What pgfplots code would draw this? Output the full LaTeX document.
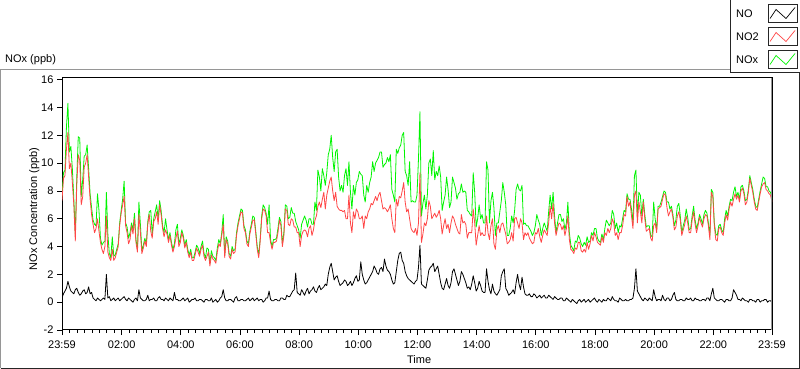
\documentclass[border=0pt]{standalone}
\usepackage{pgfplots}
\pgfplotsset{compat=1.18}
\usepackage{pgfplotstable}
\usepackage{fontspec}
\setmainfont{Liberation Sans}
\definecolor{noxgreen}{RGB}{0,245,0}
\definecolor{notwored}{RGB}{255,70,70}
\definecolor{frameg}{RGB}{150,150,150}

\pgfplotstableread{
t NO NO2 NOx
0.0 0.3 7.3 7.6
0.05 0.6 8.9 9.3
0.1 0.8 9.1 9.5
0.15 1.0 11.0 12.6
0.2 1.5 12.2 14.3
0.25 1.1 9.6 10.8
0.3 0.8 10.0 11.2
0.35 0.7 8.6 9.6
0.4 0.6 7.0 7.4
0.45 0.9 4.4 4.9
0.5 1.0 8.5 9.0
0.55 0.7 10.6 11.9
0.6 0.5 10.2 11.8
0.65 0.6 7.0 7.6
0.7 0.8 7.6 8.8
0.75 0.9 9.7 10.5
0.8 0.6 10.0 10.6
0.85 0.7 10.6 11.3
0.9 1.1 9.0 9.6
0.95 0.6 7.4 7.8
1.0 0.7 6.3 6.8
1.05 0.3 5.6 5.9
1.1 0.2 5.0 5.6
1.15 0.1 5.3 5.5
1.2 0.3 6.0 7.8
1.25 0.2 5.1 6.6
1.3 0.1 4.3 4.6
1.35 0.2 3.8 4.1
1.4 0.3 3.5 4.3
1.45 0.2 4.0 4.4
1.5 2.0 6.2 7.9
1.55 0.3 3.6 4.9
1.6 0.4 3.2 3.5
1.65 0.1 3.0 3.2
1.7 0.2 3.8 4.7
1.75 0.3 3.0 3.3
1.8 0.1 3.2 3.4
1.85 0.2 3.6 3.8
1.9 0.3 4.0 4.2
1.95 0.1 5.5 5.7
2.0 0.2 6.4 6.6
2.05 0.3 7.0 7.4
2.1 0.4 7.6 8.7
2.15 0.2 5.5 5.7
2.2 0.1 5.0 5.4
2.25 0.3 4.2 4.6
2.3 0.2 4.5 5.0
2.35 0.1 5.5 5.7
2.4 0.0 4.9 5.2
2.45 0.2 6.0 6.4
2.5 0.3 4.3 4.5
2.55 0.1 3.6 3.8
2.6 0.9 6.3 7.2
2.65 0.3 5.0 5.6
2.7 0.2 3.5 3.7
2.75 0.1 3.9 4.1
2.8 0.1 4.4 4.6
2.85 0.2 4.0 4.2
2.9 0.5 5.6 5.8
2.95 0.1 6.3 6.5
3.0 0.2 5.1 6.6
3.05 0.2 4.6 4.9
3.1 0.3 5.8 6.0
3.15 0.1 6.0 6.5
3.2 0.1 6.5 7.0
3.25 0.3 5.6 6.0
3.3 0.4 7.0 7.3
3.35 0.2 6.3 6.6
3.4 0.2 5.3 5.5
3.45 0.1 4.7 5.0
3.5 0.3 5.2 6.0
3.55 0.2 4.9 5.2
3.6 0.1 4.3 4.5
3.65 0.3 4.8 5.0
3.7 0.2 4.1 4.3
3.75 0.1 3.6 3.8
3.8 0.7 4.0 4.2
3.85 0.2 4.6 5.2
3.9 0.2 5.1 5.6
3.95 0.1 4.0 4.2
4.0 0.1 4.3 4.6
4.05 0.2 5.0 5.2
4.1 0.3 4.6 4.8
4.15 0.1 3.9 4.1
4.2 0.2 4.3 4.5
4.25 0.3 3.6 3.8
4.3 0.0 3.2 3.4
4.35 0.1 3.6 3.8
4.4 0.2 3.0 3.2
4.45 0.2 3.0 3.2
4.5 0.3 3.4 3.6
4.55 0.1 3.9 4.1
4.6 0.1 3.6 3.9
4.65 0.2 3.3 3.5
4.7 0.2 3.8 4.0
4.75 0.1 4.1 4.4
4.8 0.0 3.3 3.5
4.85 0.2 3.0 3.2
4.9 0.2 3.3 3.9
4.95 0.1 3.6 3.8
5.0 0.1 2.6 2.8
5.05 0.3 3.4 3.7
5.1 0.0 3.1 3.3
5.15 0.1 3.0 3.2
5.2 0.2 2.8 3.0
5.25 0.0 3.6 3.9
5.3 0.1 4.2 4.5
5.35 0.3 4.0 4.2
5.4 0.4 4.8 5.0
5.45 0.9 5.6 6.3
5.5 0.3 3.2 3.4
5.55 0.1 4.5 4.7
5.6 0.1 4.2 4.4
5.65 0.2 3.3 3.5
5.7 0.2 3.1 3.3
5.75 0.1 3.8 4.0
5.8 0.0 3.5 3.7
5.85 0.3 3.6 3.8
5.9 0.4 4.8 5.0
5.95 0.1 5.5 5.7
6.0 0.1 6.0 6.2
6.05 0.2 6.5 6.7
6.1 0.2 6.4 6.6
6.15 0.1 5.3 5.5
6.2 0.1 5.0 5.2
6.25 0.2 4.2 4.4
6.3 0.3 4.0 4.2
6.35 0.1 4.9 5.1
6.4 0.2 5.4 5.6
6.45 0.3 5.9 6.2
6.5 0.1 5.9 6.1
6.55 0.2 4.9 5.1
6.6 0.3 3.8 4.0
6.65 0.1 3.2 3.4
6.7 0.2 4.4 4.6
6.75 0.2 6.0 6.2
6.8 0.0 6.7 7.0
6.85 0.1 6.6 6.8
6.9 0.3 6.2 6.4
6.95 0.3 5.0 5.6
7.0 0.8 5.0 7.0
7.05 0.2 4.3 4.5
7.1 0.1 3.8 4.0
7.15 0.1 4.3 4.5
7.2 0.2 4.3 4.5
7.25 0.2 4.4 4.6
7.3 0.1 5.0 5.3
7.35 0.1 5.9 6.1
7.4 0.3 5.5 5.8
7.45 0.3 4.0 4.2
7.5 0.2 4.8 5.0
7.55 0.2 6.7 7.0
7.6 0.5 6.6 6.9
7.65 0.4 5.6 6.0
7.7 0.4 5.5 6.1
7.75 0.6 6.0 6.8
7.8 0.8 5.9 6.4
7.85 0.9 5.4 6.4
7.9 2.1 5.4 5.8
7.95 0.7 5.0 5.5
8.0 0.6 5.0 5.2
8.05 0.5 4.0 4.6
8.1 0.9 4.8 5.6
8.15 0.7 5.1 5.9
8.2 0.5 5.2 6.2
8.25 0.8 5.1 5.9
8.3 1.0 4.7 5.4
8.35 0.6 5.3 6.0
8.4 0.8 5.5 6.0
8.45 0.9 4.8 5.6
8.5 1.1 5.2 5.6
8.55 0.8 5.9 7.2
8.6 0.7 6.2 6.6
8.65 1.0 6.9 9.5
8.7 1.2 7.2 9.0
8.75 0.9 6.8 8.0
8.8 1.0 7.4 9.6
8.85 1.1 7.9 9.1
8.9 1.3 6.7 8.4
8.95 1.2 7.7 9.3
9.0 2.0 8.2 10.6
9.05 2.5 8.7 11.0
9.1 2.8 9.0 12.0
9.15 2.2 8.0 10.4
9.2 1.6 7.3 9.4
9.25 1.8 7.9 10.8
9.3 1.9 6.9 11.0
9.35 1.5 6.7 9.0
9.4 1.2 6.6 8.0
9.45 1.3 6.6 8.4
9.5 1.4 6.5 7.9
9.55 1.6 6.6 9.1
9.6 1.5 6.0 9.6
9.65 1.2 6.0 8.4
9.7 1.3 7.7 10.1
9.75 1.5 5.7 7.9
9.8 1.2 5.0 6.7
9.85 1.4 6.5 8.4
9.9 1.7 6.0 7.7
9.95 1.9 6.7 8.6
10.0 1.5 6.5 8.8
10.05 1.6 6.0 9.4
10.1 2.9 6.0 9.2
10.15 2.0 6.2 9.1
10.2 1.6 5.3 7.7
10.25 1.3 6.2 7.2
10.3 1.4 6.0 8.4
10.35 1.6 6.5 7.9
10.4 1.8 6.7 8.6
10.45 2.0 7.1 9.0
10.5 2.2 7.0 10.1
10.55 2.6 7.3 9.4
10.6 2.4 7.6 10.0
10.65 2.1 7.3 10.2
10.7 2.0 7.7 10.4
10.75 2.4 7.9 10.8
10.8 2.5 7.3 10.8
10.85 2.2 6.7 9.7
10.9 3.1 6.8 9.9
10.95 2.6 6.7 10.0
11.0 2.3 6.5 10.4
11.05 2.2 6.7 10.1
11.1 2.0 7.0 10.6
11.15 1.6 6.0 8.1
11.2 1.3 5.3 7.7
11.25 1.4 5.0 7.2
11.3 2.2 7.4 11.0
11.35 3.0 6.9 10.7
11.4 3.5 7.6 11.1
11.45 3.6 7.5 11.3
11.5 3.0 8.0 12.0
11.55 2.8 8.6 12.2
11.6 2.2 7.2 9.4
11.65 1.9 6.5 9.1
11.7 1.7 6.7 8.4
11.75 1.6 6.0 10.1
11.8 1.5 5.3 7.2
11.85 1.4 5.1 7.3
11.9 1.3 5.0 7.2
11.95 1.5 5.3 7.2
12.0 1.6 4.8 7.7
12.05 2.5 5.7 10.3
12.1 4.1 9.3 13.7
12.15 1.3 4.3 6.2
12.2 1.2 4.9 7.1
12.25 1.1 5.7 7.7
12.3 1.0 5.5 6.7
12.35 1.6 6.0 7.7
12.4 2.3 7.3 10.0
12.45 2.5 6.9 10.3
12.5 2.6 6.0 9.1
12.55 2.8 6.2 10.9
12.6 2.2 6.4 8.8
12.65 2.4 6.1 9.4
12.7 2.6 6.3 9.1
12.75 2.0 6.6 9.8
12.8 1.4 6.0 9.0
12.85 1.0 4.9 6.6
12.9 0.9 5.5 7.2
12.95 1.3 6.0 7.7
13.0 1.7 5.3 9.0
13.05 1.2 5.6 8.1
13.1 1.0 5.0 6.8
13.15 1.4 5.7 7.2
13.2 2.2 6.2 9.0
13.25 2.4 6.0 8.6
13.3 2.0 5.6 8.2
13.35 1.6 5.3 7.4
13.4 1.2 5.0 7.8
13.45 1.5 4.9 7.9
13.5 2.2 6.3 8.5
13.55 2.0 5.7 7.9
13.6 1.7 5.8 8.0
13.65 1.4 5.6 7.9
13.7 1.0 4.6 6.6
13.75 1.1 5.0 6.5
13.8 0.9 5.0 6.3
13.85 1.3 5.0 6.2
13.9 1.9 6.7 9.3
13.95 1.4 5.7 7.9
14.0 0.8 4.1 5.4
14.05 1.0 4.8 6.0
14.1 1.5 5.5 7.0
14.15 1.2 4.8 6.0
14.2 0.8 5.0 6.3
14.25 0.7 4.8 5.7
14.3 0.7 4.8 5.7
14.35 2.4 6.2 10.1
14.4 1.5 5.0 9.5
14.45 0.9 4.5 5.7
14.5 0.6 5.5 7.3
14.55 1.3 6.0 7.9
14.6 0.8 4.2 6.8
14.65 0.6 3.8 4.8
14.7 0.5 5.2 5.7
14.75 0.7 5.5 5.7
14.8 0.9 5.0 6.5
14.85 1.9 5.6 7.3
14.9 2.2 5.7 8.6
14.95 2.4 5.3 7.9
15.0 1.0 4.9 7.0
15.05 0.8 4.2 4.8
15.1 0.5 4.3 4.8
15.15 0.6 4.5 5.3
15.2 0.7 5.0 6.2
15.25 0.9 4.4 5.7
15.3 0.6 6.0 6.6
15.35 1.4 6.1 8.1
15.4 2.0 5.7 8.5
15.45 1.3 5.3 8.1
15.5 0.9 6.0 8.0
15.55 1.8 5.7 8.4
15.6 1.1 4.5 5.6
15.65 0.6 5.0 5.7
15.7 0.5 4.8 5.5
15.75 0.5 5.0 5.5
15.8 0.6 4.6 5.3
15.85 0.4 4.4 5.1
15.9 0.4 4.2 4.8
15.95 0.6 4.3 5.0
16.0 0.5 5.0 5.5
16.05 0.3 4.9 6.3
16.1 0.4 5.3 5.9
16.15 0.5 4.7 5.6
16.2 0.3 4.3 4.8
16.25 0.4 4.8 5.3
16.3 0.5 5.2 5.7
16.35 0.3 5.0 5.4
16.4 0.3 4.8 5.1
16.45 0.5 5.7 6.5
16.5 0.4 6.9 7.7
16.55 0.3 6.0 6.7
16.6 0.2 7.1 7.9
16.65 0.4 5.7 6.2
16.7 0.3 4.8 5.0
16.75 0.2 5.3 5.7
16.8 0.2 5.7 6.3
16.85 0.3 5.6 6.3
16.9 0.3 5.2 5.8
16.95 0.1 5.5 6.0
17.0 0.1 4.8 5.2
17.05 0.3 5.3 5.7
17.1 0.2 6.2 7.2
17.15 0.1 4.5 5.0
17.2 0.0 3.8 4.1
17.25 0.2 3.7 3.9
17.3 0.1 3.5 3.7
17.35 0.0 3.9 4.4
17.4 -0.1 3.8 4.3
17.45 0.1 4.3 4.8
17.5 0.2 4.3 4.6
17.55 0.0 3.7 4.2
17.6 0.1 3.6 4.0
17.65 0.2 3.8 4.3
17.7 0.0 3.6 4.1
17.75 0.1 4.3 4.7
17.8 0.2 3.8 4.3
17.85 0.0 4.2 4.4
17.9 0.1 4.8 5.0
17.95 0.2 4.4 4.8
18.0 0.3 5.0 5.3
18.05 0.1 4.7 5.3
18.1 0.0 4.3 4.6
18.15 0.2 4.2 4.4
18.2 0.1 4.1 4.3
18.25 0.0 4.7 4.9
18.3 0.2 4.3 4.5
18.35 0.1 5.0 5.3
18.4 0.1 4.8 5.9
18.45 0.3 5.3 5.7
18.5 0.2 5.0 5.5
18.55 0.1 5.3 5.7
18.6 0.4 6.0 6.6
18.65 0.2 5.7 6.3
18.7 0.1 4.8 5.3
18.75 0.1 5.0 5.7
18.8 0.0 4.5 5.0
18.85 0.3 5.0 5.5
18.9 0.2 5.0 5.4
18.95 0.1 5.5 6.0
19.0 0.1 6.3 6.6
19.05 0.2 6.2 6.5
19.1 0.1 7.6 7.8
19.15 0.1 6.9 7.4
19.2 0.2 7.2 7.4
19.25 0.2 6.2 6.7
19.3 0.3 5.3 5.7
19.35 1.0 7.7 9.1
19.4 2.4 8.0 9.5
19.45 0.8 5.7 6.2
19.5 0.6 7.2 7.9
19.55 0.4 6.5 7.7
19.6 0.2 5.7 6.2
19.65 0.1 7.2 7.4
19.7 0.3 6.0 6.3
19.75 0.2 5.1 5.4
19.8 0.1 5.2 5.5
19.85 0.3 5.3 5.5
19.9 0.2 4.6 4.8
19.95 0.1 4.4 4.7
20.0 0.9 5.5 7.2
20.05 0.4 5.7 6.0
20.1 0.1 5.0 5.2
20.15 0.2 6.7 6.9
20.2 0.2 6.8 6.9
20.25 0.1 6.9 7.2
20.3 0.5 7.4 7.6
20.35 0.2 7.8 8.0
20.4 0.1 7.7 7.9
20.45 0.3 6.8 7.2
20.5 0.3 6.2 7.2
20.55 0.1 6.5 6.7
20.6 0.2 6.7 6.9
20.65 0.5 6.1 6.3
20.7 0.7 5.2 5.5
20.75 0.2 5.4 5.9
20.8 0.1 6.2 6.9
20.85 0.1 6.5 7.1
20.9 0.2 5.9 6.2
20.95 0.2 4.8 5.0
21.0 0.1 5.2 5.5
21.05 0.1 5.6 5.9
21.1 0.3 6.2 6.7
21.15 0.2 5.7 6.1
21.2 0.2 5.0 5.2
21.25 0.3 5.0 5.3
21.3 0.1 5.9 6.2
21.35 0.1 6.5 6.9
21.4 0.3 5.6 5.9
21.45 0.2 5.0 5.3
21.5 0.2 5.5 5.7
21.55 0.1 6.1 6.3
21.6 0.1 5.7 6.0
21.65 0.2 5.4 5.6
21.7 0.2 6.0 6.3
21.75 0.1 6.3 6.6
21.8 0.3 6.2 6.4
21.85 0.3 5.5 5.7
21.9 0.1 4.5 4.8
21.95 0.6 7.9 8.1
22.0 1.0 7.6 7.9
22.05 0.3 5.5 5.7
22.1 0.2 4.5 4.9
22.15 0.1 4.4 4.8
22.2 0.1 5.3 5.5
22.25 0.2 5.4 5.6
22.3 0.2 5.0 5.2
22.35 0.1 4.8 5.0
22.4 0.0 5.7 6.0
22.45 0.2 6.3 6.6
22.5 0.2 5.9 6.2
22.55 0.1 6.7 6.9
22.6 0.1 7.2 7.4
22.65 0.3 6.9 7.3
22.7 0.9 7.4 7.9
22.75 0.7 7.8 8.3
22.8 0.5 7.4 7.6
22.85 0.2 7.7 7.9
22.9 0.2 7.2 7.4
22.95 0.1 8.0 8.3
23.0 0.3 8.2 8.4
23.05 0.2 7.8 8.0
23.1 0.1 7.0 7.3
23.15 0.1 7.2 7.4
23.2 0.0 7.9 8.1
23.25 0.2 8.9 9.1
23.3 0.2 8.4 8.6
23.35 0.1 7.9 8.1
23.4 0.1 7.2 7.4
23.45 0.0 6.7 6.9
23.5 0.2 6.6 6.8
23.55 0.2 7.2 7.4
23.6 0.0 7.8 8.0
23.65 0.1 8.3 8.5
23.7 0.1 8.5 9.0
23.75 0.2 8.6 8.9
23.8 0.2 8.1 8.3
23.85 0.0 8.0 8.3
23.9 0.1 7.8 8.0
23.95 0.1 7.7 7.9
24.0 0.0 7.2 7.4
}\datatable

\begin{document}
\begin{tikzpicture}[x=1pt,y=1pt]
\path[use as bounding box, fill=white] (0,0) rectangle (800,369);
% outer frame
\draw[frameg, line width=1pt] (0.5,0.5) -- (0.5,299.5) -- (730.5,299.5);
\draw[black!85, line width=1pt] (0.5,0.5) -- (799.5,0.5) -- (799.5,297);
\node[anchor=base west, inner sep=0pt, font=\fontsize{11}{13}\selectfont] at (5,306.5) {NOx (ppb)};

\begin{axis}[
  at={(62pt,39pt)}, anchor=south west,
  scale only axis, width=710pt, height=252pt,
  xmin=0, xmax=24, ymin=-2, ymax=16.12,
  clip=true,
  axis line style={black, line width=1pt},
  xtick={0,2.0167,4.0167,6.0167,8.0167,10.0167,12.0167,14.0167,16.0167,18.0167,20.0167,22.0167,24},
  xticklabels={23:59,02:00,04:00,06:00,08:00,10:00,12:00,14:00,16:00,18:00,20:00,22:00,23:59},
  minor xtick={0.2667,0.5167,...,23.8},
  ytick={-2,0,2,4,6,8,10,12,14,16},
  tick align=outside,
  xtick pos=left, ytick pos=left,
  major tick length=5pt, minor tick length=3pt,
  tick style={black, line width=0.8pt},
  ticklabel style={font=\fontsize{11}{13}\selectfont},
  xticklabel style={yshift=-2pt},
  /pgf/number format/assume math mode=true,
  xlabel={Time},
  xlabel style={at={(axis description cs:0.503,-0.119)}, anchor=center, font=\fontsize{11}{13}\selectfont},
  ylabel={NOx Concentration (ppb)},
  ylabel style={at={(axis description cs:-0.039,0.48)}, anchor=center, rotate=0, font=\fontsize{11}{13}\selectfont},
]
\addplot[color=noxgreen, line width=0.8pt, line join=round, mark=none] table[x=t, y=NOx] {\datatable};
\addplot[color=notwored, line width=0.8pt, line join=round, mark=none] table[x=t, y=NO2] {\datatable};
\addplot[color=black, line width=0.8pt, line join=round, mark=none] table[x=t, y=NO] {\datatable};
\end{axis}
\draw[frameg, line width=1pt] (771.5,39) -- (771.5,291);

% legend box
\draw[black!85, line width=1pt] (730.5,369) -- (730.5,296.5) -- (800,296.5);
\node[anchor=west, inner sep=0pt, font=\fontsize{11}{13}\selectfont] at (736,355.5) {NO};
\node[anchor=west, inner sep=0pt, font=\fontsize{11}{13}\selectfont] at (736,332.5) {NO2};
\node[anchor=west, inner sep=0pt, font=\fontsize{11}{13}\selectfont] at (736,309.5) {NOx};
\draw[black!85, fill=white, line width=0.8pt] (768,347) rectangle (797,365);
\draw[black!85, fill=white, line width=0.8pt] (768,324) rectangle (797,342);
\draw[black!85, fill=white, line width=0.8pt] (768,301) rectangle (797,319);
\draw[black, line width=0.7pt] (770,350.5) -- (776,359.5) -- (786,350.5) -- (795,361.5);
\draw[notwored, line width=0.7pt] (770,327.5) -- (776,336.5) -- (786,327.5) -- (795,338.5);
\draw[noxgreen, line width=0.7pt] (770,304.5) -- (776,313.5) -- (786,304.5) -- (795,315.5);
\end{tikzpicture}
\end{document}
